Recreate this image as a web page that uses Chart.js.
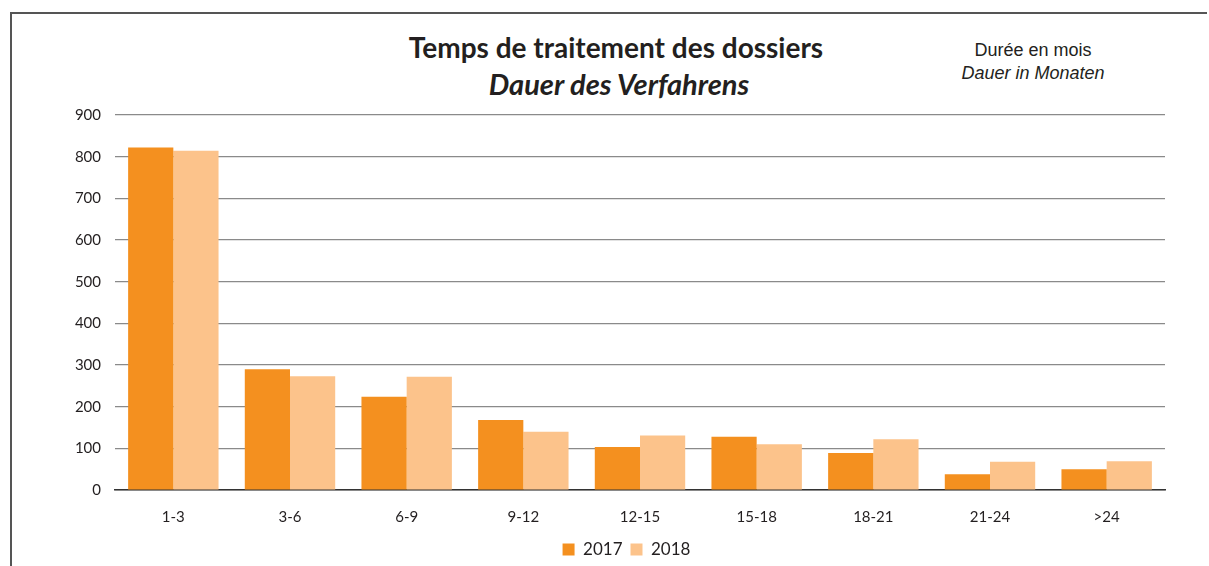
<!DOCTYPE html>
<html>
<head>
<meta charset="utf-8">
<script src="https://cdn.jsdelivr.net/npm/chart.js@4"></script>
<style>
  body { margin: 0; background: #fff; }
  #wrap { position: relative; width: 1209px; height: 566px; overflow: hidden; }
  #frame { position: absolute; left: 10px; top: 12px; width: 1195px; height: 600px;
           border-left: 2px solid #555; border-top: 2px solid #555; }
  .t { position: absolute; white-space: nowrap; color: #231f20; }
  #title { left: 616px; top: 30px; transform: translateX(-50%); font: bold 28px Lato, sans-serif; }
  #subtitle { left: 619px; top: 66px; transform: translateX(-50%); font: italic bold 29px Lato, sans-serif; }
  #note1 { left: 1033px; top: 40px; transform: translateX(-50%); font: 18px "Liberation Sans", Arial, sans-serif; }
  #note2 { left: 1033px; top: 63px; transform: translateX(-50%); font: italic 18px "Liberation Sans", Arial, sans-serif; }
  canvas { position: absolute; left: 0; top: 0; }
</style>
</head>
<body>
<div id="wrap">
  <div id="frame"></div>
  <div class="t" id="title">Temps de traitement des dossiers</div>
  <div class="t" id="subtitle">Dauer des Verfahrens</div>
  <div class="t" id="note1">Durée en mois</div>
  <div class="t" id="note2">Dauer in Monaten</div>
  <canvas id="chart" width="1209" height="566"></canvas>
</div>
<script>
// categories (months)
const categories = ["1-3", "3-6", "6-9", "9-12", "12-15", "15-18", "18-21", "21-24", ">24"];

// series values
const values2017 = [822, 290, 224, 168, 103, 128, 89, 38, 50];
const values2018 = [814, 273, 272, 140, 131, 110, 122, 68, 69];

// y axis ticks
const yMin = 0;
const yMax = 900;
const yStep = 100;

const tickFont = { family: "Lato, sans-serif", size: 15 };

// legend sits a bit right of centre in the original
const legendShift = {
  id: "legendShift",
  afterLayout(chart) {
    const lg = chart.legend;
    lg.left += 39; lg.right += 39;
    lg.top += 5; lg.bottom += 5;
  }
};

const ctx = document.getElementById("chart").getContext("2d");

new Chart(ctx, {
  type: "bar",
  data: {
    labels: categories,
    datasets: [
      {
        label: "2017",
        data: values2017,
        backgroundColor: "#F4901F",
        categoryPercentage: 0.775,
        barPercentage: 1.0
      },
      {
        label: "2018",
        data: values2018,
        backgroundColor: "#FCC38B",
        categoryPercentage: 0.775,
        barPercentage: 1.0
      }
    ]
  },
  options: {
    responsive: false,
    animation: false,
    layout: { padding: { top: 115, left: 10, right: 44, bottom: 3 } },
    plugins: {
      tooltip: { enabled: false },
      legend: {
        position: "bottom",
        labels: {
          boxWidth: 12,
          boxHeight: 12,
          padding: 8,
          color: "#231f20",
          font: { family: "Lato, sans-serif", size: 17 }
        }
      }
    },
    scales: {
      x: {
        grid: { display: false },
        border: { color: "#333", width: 1.5 },
        ticks: { color: "#231f20", font: tickFont, padding: 10 },
        afterFit: scale => { scale.height = 38; }
      },
      y: {
        min: yMin,
        max: yMax,
        ticks: { stepSize: yStep, color: "#231f20", font: tickFont, padding: 14 },
        grid: { color: "#8a8a8a", lineWidth: 1.2, drawTicks: false },
        border: { display: false },
        afterFit: scale => { scale.width = 105; }
      }
    }
  },
  plugins: [legendShift]
});
</script>
</body>
</html>
